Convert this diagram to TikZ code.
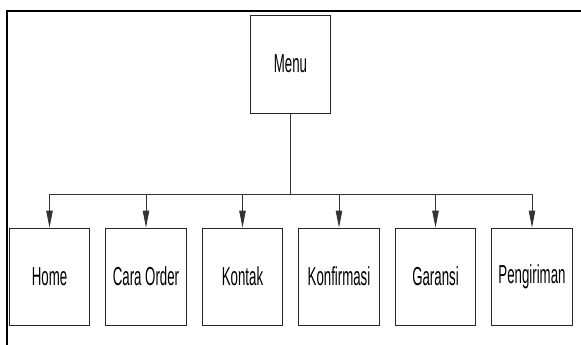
\documentclass[tikz,border=0pt]{standalone}
\usepackage{fontspec}
\setmainfont{Liberation Sans}
\usetikzlibrary{arrows.meta}
\newcommand{\boxtext}[1]{\scalebox{0.51}[1]{\fontsize{26}{26}\selectfont #1}}
\tikzset{
  menubox/.style={draw=black!85, line width=0.8pt, minimum width=80.5pt, minimum height=97pt, inner sep=0pt},
  conn/.style={draw=black!80, line width=0.8pt},
  arr/.style={conn, -{Triangle[length=17pt,width=6.5pt]}},
  frame/.style={line width=2pt, black}
}
\begin{document}
\begin{tikzpicture}[x=1pt,y=-1pt]
\useasboundingbox (0,0) rectangle (581,345);
\draw[frame] (6.5,345) -- (6.5,11) -- (581,11);
\node[menubox, minimum height=98pt] (menu) at (290.5,64) {\boxtext{Menu}};
\node[menubox] (home) at (49.5,276.5) {\boxtext{Home}};
\node[menubox] (cara) at (146,276.5) {\boxtext{Cara Order}};
\node[menubox] (kontak) at (242.5,276.5) {\boxtext{Kontak}};
\node[menubox] (konf) at (339,276.5) {\boxtext{Konfirmasi}};
\node[menubox] (gar) at (435.5,276.5) {\boxtext{Garansi}};
\node[menubox] (peng) at (532,276.5) {\boxtext{Pengiriman}};
\coordinate (bar) at (290.5,194);
\draw[conn] (menu.south) -- (menu.south |- bar);
\draw[conn] (home.north |- bar) -- (peng.north |- bar);
\foreach \n in {home,cara,kontak,konf,gar,peng}{
  \draw[arr] (\n.north |- bar) -- (\n.north);
}
\end{tikzpicture}
\end{document}
